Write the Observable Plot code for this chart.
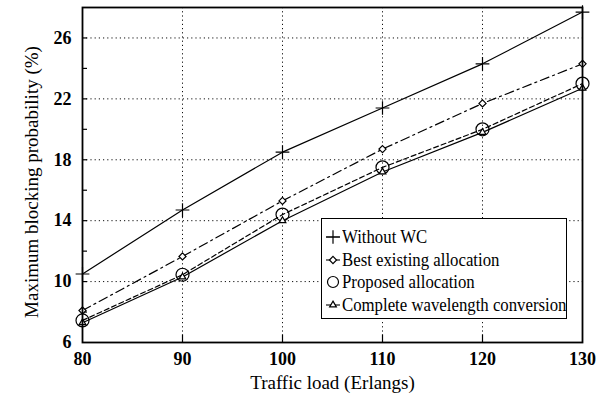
<!DOCTYPE html>
<html>
<head>
<meta charset="utf-8">
<script src="https://cdn.jsdelivr.net/npm/d3@7"></script>
<script src="https://cdn.jsdelivr.net/npm/@observablehq/plot@0.6"></script>
<style>
  body { margin: 0; background: white; }
  #wrap { position: relative; width: 600px; height: 402px; font-family: "Liberation Serif", serif; }
  #legend { position: absolute; left: 321px; top: 218px; width: 246px; height: 101px;
    border: 1.3px solid black; background: white; padding-top: 7px; box-sizing: border-box; }
  .row { height: 22.5px; display: flex; align-items: center; font-size: 19.5px; white-space: nowrap; }
  .row svg { margin-left: 3px; margin-right: 1px; flex: none; }
  .row span { display: inline-block; transform: scaleX(0.86); transform-origin: left center; }
</style>
</head>
<body>
<div id="wrap"><div id="legend"></div></div>
<script>
const loads = [80, 90, 100, 110, 120, 130];
const withoutWC = [10.5, 14.7, 18.5, 21.4, 24.3, 27.7];
const bestExisting = [8.1, 11.65, 15.3, 18.7, 21.7, 24.3];
const proposed = [7.45, 10.45, 14.4, 17.5, 20.0, 23.0];
const complete = [7.3, 10.3, 14.0, 17.2, 19.8, 22.7];

const seriesNames = ["Without WC", "Best existing allocation", "Proposed allocation", "Complete wavelength conversion"];
const xTicks = [80, 90, 100, 110, 120, 130];
const yTicks = [6, 10, 14, 18, 22, 26];
const yMinor = [8, 12, 16, 20, 24];
const xGrid = [90, 100, 110, 120];
const yGrid = [10, 14, 18, 22, 26];
const xLabel = "Traffic load (Erlangs)";
const yLabel = "Maximum blocking probability (%)";

const seriesValues = [withoutWC, bestExisting, proposed, complete];
const styles = [
  {dash: null, symbol: "plus", r: 4.5},
  {dash: "9,4,2,4", symbol: "diamond2", r: 3.2},
  {dash: "5,3", symbol: "circle", r: 6.5},
  {dash: null, symbol: "triangle2", r: 3.2}
];
const rows = seriesValues.map((vals, s) => loads.map((x, i) => ({series: seriesNames[s], x, y: vals[i]})));

const marks = [
  Plot.ruleX(xGrid, {stroke: "#111", strokeWidth: 1, strokeDasharray: "1.2,3"}),
  Plot.ruleY(yGrid, {stroke: "#111", strokeWidth: 1, strokeDasharray: "1.2,3"}),
  Plot.ruleX(xGrid, {y1: 6, y2: 6.5, stroke: "black", strokeWidth: 1.2}),
  Plot.ruleY(yMinor.concat(yGrid), {x1: 80, x2: 80.5, stroke: "black", strokeWidth: 1.2})
];
rows.forEach((data, s) => {
  const st = styles[s];
  const lineOpts = {x: "x", y: "y", stroke: "black", strokeWidth: 1.2};
  if (st.dash) lineOpts.strokeDasharray = st.dash;
  marks.push(Plot.line(data, lineOpts));
  marks.push(Plot.dot(data, {x: "x", y: "y", symbol: () => st.symbol, r: st.r, stroke: "black", strokeWidth: 1.2, fill: s === 2 ? "none" : "white"}));
});
marks.push(
  Plot.frame({stroke: "black", strokeWidth: 1.8}),
  Plot.axisX({ticks: xTicks, tickSize: 0, tickPadding: 10, fontSize: 18, fontWeight: "bold", label: null, tickFormat: d => d}),
  Plot.axisY({ticks: yTicks, tickSize: 0, tickPadding: 11, fontSize: 18, fontWeight: "bold", label: null, tickFormat: d => d}),
  Plot.text([xLabel], {text: d => d, frameAnchor: "bottom", textAnchor: "middle", dy: 46, fontSize: 19}),
  Plot.text([yLabel], {text: d => d, frameAnchor: "left", textAnchor: "middle", rotate: -90, dx: -51, dy: 7, fontSize: 19})
);

const chart = Plot.plot({
  width: 600, height: 402,
  marginLeft: 82, marginRight: 18, marginTop: 7, marginBottom: 60,
  x: {domain: [80, 130]},
  y: {domain: [6, 28]},
  symbol: {type: "identity"},
  style: {fontFamily: "'Liberation Serif', serif", background: "white", color: "black", overflow: "visible"},
  marks
});
const wrap = document.getElementById("wrap");
wrap.insertBefore(chart, wrap.firstChild);

// legend
const legend = document.getElementById("legend");
const symMap = {plus: d3.symbolPlus, diamond2: d3.symbolDiamond2, circle: d3.symbolCircle, triangle2: d3.symbolTriangle2};
seriesNames.forEach((name, s) => {
  const st = styles[s];
  const row = document.createElement("div");
  row.className = "row";
  const ns = "http://www.w3.org/2000/svg";
  const svg = document.createElementNS(ns, "svg");
  svg.setAttribute("width", 16); svg.setAttribute("height", 16);
  if (s !== 2) {
    const ln = document.createElementNS(ns, "line");
    ln.setAttribute("x1", 1); ln.setAttribute("x2", 15); ln.setAttribute("y1", 8); ln.setAttribute("y2", 8);
    ln.setAttribute("stroke", "black"); ln.setAttribute("stroke-width", 1.1);
    svg.appendChild(ln);
  }
  const p = document.createElementNS(ns, "path");
  const r = s === 2 ? 5.5 : st.r;
  p.setAttribute("d", d3.symbol(symMap[st.symbol], Math.PI * r * r)());
  p.setAttribute("transform", "translate(8,8)");
  p.setAttribute("stroke", "black"); p.setAttribute("stroke-width", 1.2);
  p.setAttribute("fill", s === 2 ? "none" : "white");
  svg.appendChild(p);
  row.appendChild(svg);
  const span = document.createElement("span");
  span.textContent = name;
  row.appendChild(span);
  legend.appendChild(row);
});
</script>
</body>
</html>
